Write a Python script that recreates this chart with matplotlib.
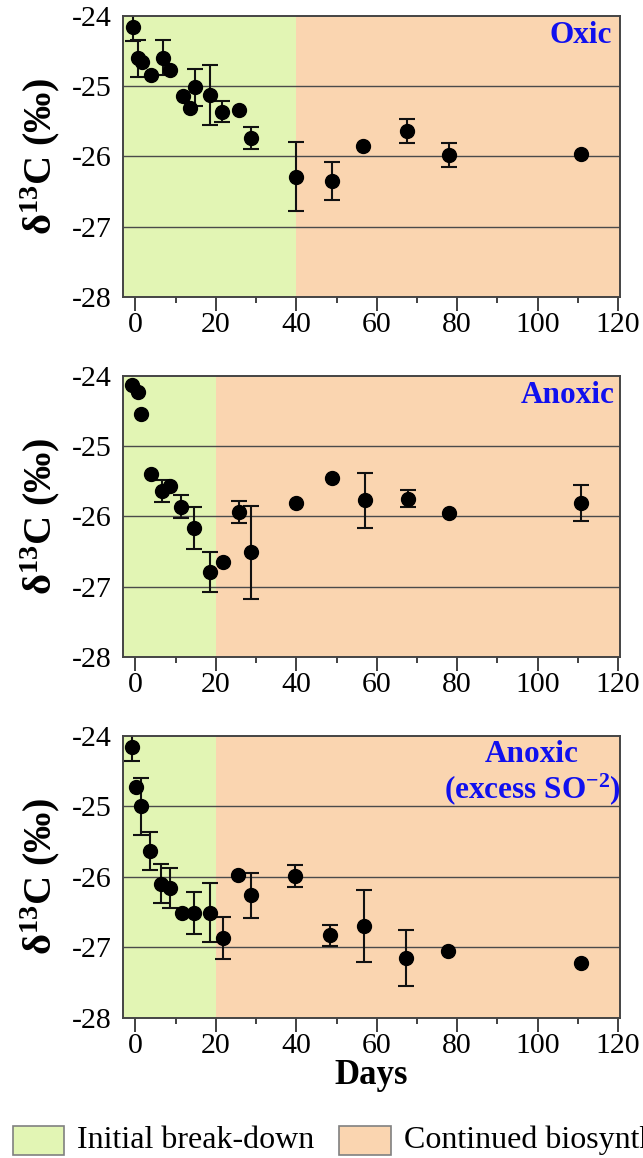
import numpy as np
import matplotlib
matplotlib.use("Agg")
import matplotlib.pyplot as plt
from matplotlib.patches import Rectangle

nan = np.nan

# ---------------- data ----------------
days_oxic = [-0.5, 0.7, 1.7, 3.9, 6.8, 8.7, 11.7, 13.5, 14.7, 18.6, 21.6, 25.7, 28.8,
             39.9, 48.8, 56.6, 67.6, 77.9, 110.7]
d13c_oxic = [-24.16, -24.61, -24.66, -24.85, -24.60, -24.78, -25.14, -25.31, -25.02,
             -25.13, -25.37, -25.34, -25.74, -26.29, -26.35, -25.85, -25.64, -25.98, -25.97]
err_oxic = [0.20, 0.26, nan, nan, 0.25, nan, nan, nan, 0.26, 0.42, 0.15, nan, 0.15,
            0.49, 0.27, nan, 0.17, 0.17, nan]

days_anoxic = [-0.8, 0.7, 1.5, 3.8, 6.6, 8.5, 11.4, 14.6, 18.6, 21.7, 25.7, 28.7,
               39.9, 48.9, 57.1, 67.9, 77.9, 110.9]
d13c_anoxic = [-24.13, -24.23, -24.55, -25.40, -25.64, -25.57, -25.86, -26.16, -26.79,
               -26.65, -25.94, -26.51, -25.81, -25.46, -25.77, -25.75, -25.95, -25.81]
err_anoxic = [nan, nan, nan, nan, 0.16, nan, 0.16, 0.30, 0.29, nan, 0.16, 0.66,
              nan, nan, 0.39, 0.12, nan, 0.26]

days_sulf = [-0.9, 0.2, 1.4, 3.7, 6.3, 8.7, 11.5, 14.6, 18.6, 21.7, 25.5, 28.7,
             39.6, 48.5, 56.8, 67.4, 77.8, 110.9]
d13c_sulf = [-24.16, -24.73, -25.00, -25.63, -26.10, -26.16, -26.51, -26.52, -26.51,
             -26.87, -25.97, -26.26, -25.99, -26.83, -26.70, -27.15, -27.05, -27.22]
err_sulf = [0.20, nan, 0.40, 0.27, 0.28, 0.28, nan, 0.30, 0.42, 0.30, nan, 0.32,
            0.15, 0.15, 0.51, 0.40, nan, nan]

phase_end = [40, 20, 20]
panel_titles = ["Oxic", "Anoxic", "Anoxic"]
x_ticks = [0, 20, 40, 60, 80, 100, 120]
y_ticks = [-24, -25, -26, -27, -28]
legend_labels = ["Initial break-down", "Continued biosynthesis"]

GREEN = "#e2f5b4"
ORANGE = "#fad5b0"
BLUE = "#1010ee"

plt.rcParams["font.family"] = ["Liberation Serif", "DejaVu Serif"]
plt.rcParams["mathtext.fontset"] = "custom"
plt.rcParams["mathtext.rm"] = "Liberation Serif"
plt.rcParams["mathtext.bf"] = "Liberation Serif:bold"
plt.rcParams["mathtext.it"] = "Liberation Serif:italic"

W, H = 643, 1158
fig = plt.figure(figsize=(W / 100, H / 100), dpi=100)

ax_left, ax_right = 123, 620
tops = [15.5, 375.7, 736]
ph = 281.5

datasets = [(days_oxic, d13c_oxic, err_oxic),
            (days_anoxic, d13c_anoxic, err_anoxic),
            (days_sulf, d13c_sulf, err_sulf)]

axes = []
for i, (d, v, e) in enumerate(datasets):
    ax = fig.add_axes([ax_left / W, 1 - (tops[i] + ph) / H,
                       (ax_right - ax_left) / W, ph / H])
    axes.append(ax)
    xmin, xmax = -3.1, 120.5
    ax.set_xlim(xmin, xmax)
    ax.set_ylim(-28, -24)
    ax.axvspan(xmin, phase_end[i], color=GREEN, zorder=0, lw=0)
    ax.axvspan(phase_end[i], xmax, color=ORANGE, zorder=0, lw=0)
    for gy in [-25, -26, -27]:
        ax.axhline(gy, color="#4a4a4a", lw=1.0, zorder=1)
    d_arr = np.array(d)
    v_arr = np.array(v)
    e_arr = np.array(e)
    ax.errorbar(d_arr, v_arr, yerr=e_arr, fmt="none", ecolor="#111111",
                elinewidth=1.5, capsize=5.5, capthick=1.5, zorder=2)
    ax.plot(d_arr, v_arr, "o", color="black", markersize=10, zorder=3)
    ax.set_xticks(x_ticks)
    ax.set_xticks(np.arange(10, 120, 20), minor=True)
    ax.set_yticks(y_ticks)
    ax.set_yticklabels([str(t) for t in y_ticks])
    ax.tick_params(axis="x", which="major", direction="out", length=10, width=1.3,
                   colors="#333333", labelcolor="black", labelsize=21.5, pad=1)
    ax.tick_params(axis="x", which="minor", direction="out", length=4.5, width=1.3,
                   colors="#333333")
    ax.tick_params(axis="y", length=0, labelsize=21.5, pad=8)
    for s in ax.spines.values():
        s.set_color("#444444")
        s.set_linewidth(1.4)
    ax.set_ylabel(r"δ$^{\mathbf{13}}$C (‰)", fontsize=29, fontweight="bold",
                  labelpad=0)
    ax.yaxis.set_label_coords(-0.123, 0.5)

axes[0].text(0.984, 0.901, panel_titles[0], transform=axes[0].transAxes,
             ha="right", va="baseline", color=BLUE, fontsize=22.5, fontweight="bold")
axes[1].text(0.99, 0.904, panel_titles[1], transform=axes[1].transAxes,
             ha="right", va="baseline", color=BLUE, fontsize=22.5, fontweight="bold")
axes[2].text(0.823, 0.907, panel_titles[2], transform=axes[2].transAxes,
             ha="center", va="baseline", color=BLUE, fontsize=22.5, fontweight="bold")
axes[2].text(0.823, 0.778, r"(excess SO$^{\mathbf{-2}}$)", transform=axes[2].transAxes,
             ha="center", va="baseline", color=BLUE, fontsize=22.5, fontweight="bold")

axes[2].set_xlabel("Days", fontsize=25, fontweight="bold", labelpad=0)

# legend (manual)
fig.add_artist(Rectangle((12.5 / W, 1 - 1155 / H), 51.5 / W, 29.5 / H,
                         transform=fig.transFigure, facecolor=GREEN,
                         edgecolor="#808080", lw=1.2))
fig.text(77 / W, 1 - 1140.5 / H, legend_labels[0], ha="left", va="center",
         fontsize=23)
fig.add_artist(Rectangle((339 / W, 1 - 1155 / H), 51.5 / W, 29.5 / H,
                         transform=fig.transFigure, facecolor=ORANGE,
                         edgecolor="#808080", lw=1.2))
fig.text(404 / W, 1 - 1140.5 / H, legend_labels[1], ha="left", va="center",
         fontsize=23)

fig.savefig("out.png", dpi=100)
